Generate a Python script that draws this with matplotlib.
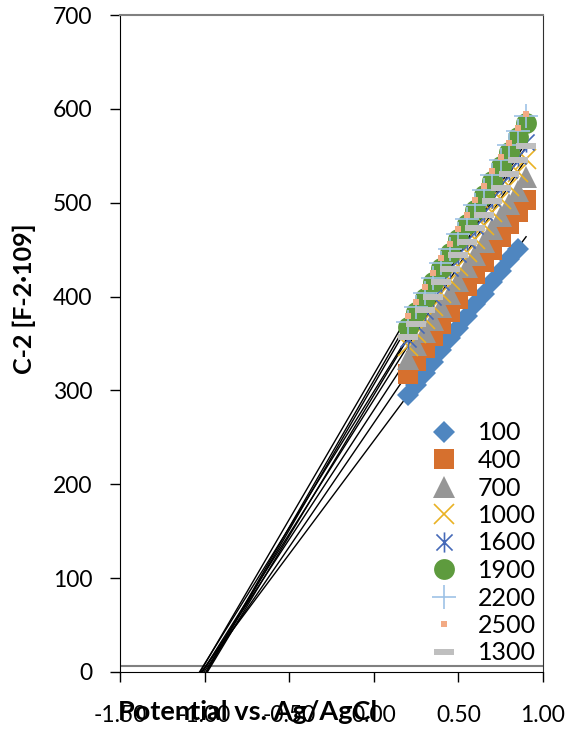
import numpy as np
import matplotlib
matplotlib.use("Agg")
import matplotlib.pyplot as plt
from matplotlib.path import Path

plt.rcParams['font.family'] = ['Lato', 'DejaVu Sans']

# ---------------- data ----------------
x_main = [0.20, 0.25, 0.30, 0.35, 0.40, 0.45, 0.50, 0.55, 0.60, 0.65, 0.70, 0.75, 0.80, 0.85, 0.90]
x_100 = [0.20, 0.25, 0.30, 0.35, 0.40, 0.45, 0.50, 0.55, 0.60, 0.65, 0.70, 0.75, 0.80, 0.85]

y_100 = [295, 306, 319, 330, 343, 356, 367, 379, 392, 403, 416, 427, 440, 451]
y_400 = [318, 331, 345, 358, 371, 384, 397, 411, 424, 437, 450, 463, 477, 490, 503]
y_700 = [334, 348, 362, 375, 389, 403, 417, 431, 444, 458, 472, 486, 499, 513, 527]
y_1000 = [347, 361, 376, 390, 404, 418, 433, 447, 461, 476, 490, 504, 518, 533, 547]
y_1600 = [355, 370, 385, 400, 415, 430, 445, 460, 475, 490, 505, 520, 535, 550, 565]
y_1900 = [368, 384, 399, 415, 430, 446, 461, 477, 492, 508, 523, 539, 554, 570, 585]
y_2200 = [373, 389, 404, 420, 436, 451, 467, 483, 498, 514, 530, 545, 561, 576, 592]
y_2500 = [379, 394, 410, 425, 441, 456, 472, 487, 503, 518, 534, 549, 564, 580, 595]
y_1300 = [357, 371, 386, 400, 415, 429, 444, 458, 473, 487, 502, 516, 531, 545, 560]

labels = ['100', '400', '700', '1000', '1600', '1900', '2200', '2500', '1300']
xs = [x_100, x_main, x_main, x_main, x_main, x_main, x_main, x_main, x_main]
ys = [y_100, y_400, y_700, y_1000, y_1600, y_1900, y_2200, y_2500, y_1300]

x_ticks = [-1.5, -1.0, -0.5, 0.0, 0.5, 1.0]
x_ticklabels = ['-1.50', '-1.00', '-0.50', '0.00', '0.50', '1.00']
y_ticks = [0, 100, 200, 300, 400, 500, 600, 700]

# custom markers
star_path = Path([(0, -1), (0, 1), (-0.8, -0.8), (0.8, 0.8), (-0.8, 0.8), (0.8, -0.8)],
                 [Path.MOVETO, Path.LINETO, Path.MOVETO, Path.LINETO, Path.MOVETO, Path.LINETO])
dash_path = Path([(-1, -0.3), (1, -0.3), (1, 0.3), (-1, 0.3), (-1, -0.3)],
                 [Path.MOVETO, Path.LINETO, Path.LINETO, Path.LINETO, Path.CLOSEPOLY])

styles = [
    dict(marker='D', ms=11.5, mfc='#4F86C0', mec='#4F86C0', mew=0),
    dict(marker='s', ms=15, mfc='#D6702E', mec='#D6702E', mew=0),
    dict(marker='^', ms=16, mfc='#969696', mec='#969696', mew=0),
    dict(marker='x', ms=14.5, mfc='none', mec='#E9B224', mew=1.2),
    dict(marker=star_path, ms=14.5, mfc='none', mec='#4569B8', mew=1.2),
    dict(marker='o', ms=15, mfc='#5E9B3E', mec='#5E9B3E', mew=0),
    dict(marker='+', ms=17, mfc='none', mec='#9EC2E6', mew=1.2),
    dict(marker='s', ms=4.5, mfc='#F2AA84', mec='#F2AA84', mew=0),
    dict(marker=dash_path, ms=14.5, mfc='#BFBFBF', mec='#BFBFBF', mew=0),
]

fig = plt.figure(figsize=(5.71, 7.31), dpi=100)
ax = fig.add_axes([120 / 571, 59 / 731, 423 / 571, 657 / 731])

# trendlines (linear fits, extended back to the x-intercept)
for x, y in zip(xs, ys):
    k, b = np.polyfit(x, y, 1)
    x0 = -b / k
    xl = np.array([x0, 0.9])
    ax.plot(xl, k * xl + b, color='black', lw=1.0, zorder=2)

handles = []
for i, (x, y, st, lab) in enumerate(zip(xs, ys, styles, labels)):
    h, = ax.plot(x, y, linestyle='none', label=lab, zorder=3 + i, **st)
    handles.append(h)

ax.set_xlim(-1.5, 1.0)
ax.set_ylim(0, 700)
ax.set_xticks(x_ticks)
ax.set_xticklabels(x_ticklabels)
ax.set_yticks(y_ticks)
ax.tick_params(axis='both', direction='out', length=7, width=1, labelsize=16.5, colors='black')
ax.tick_params(axis='y', pad=13)
ax.tick_params(axis='x', pad=16.5)

ax.spines['left'].set_color('black')
ax.spines['bottom'].set_color('black')
ax.spines['top'].set_color('#808080')
ax.spines['top'].set_linewidth(1.5)
ax.spines['right'].set_color('#303030')
ax.axhline(6.4, color='#808080', lw=1.5, zorder=1)

leg = ax.legend(handles=handles, loc='lower left', bbox_to_anchor=(291 / 423, -10 / 657),
                frameon=False, fontsize=18, numpoints=1, handlelength=1.2,
                handletextpad=0.76, labelspacing=0.18, borderpad=0.2)

fig.text(248 / 571, 1 - 712 / 731, 'Potential vs. Ag/AgCl', ha='center', va='center',
         fontsize=19.5, fontweight='bold')
fig.text(24 / 571, 1 - 299 / 731, 'C-2 [F-2·109]', ha='center', va='center',
         rotation=90, fontsize=18, fontweight='bold')

fig.savefig('out.png', dpi=100)
